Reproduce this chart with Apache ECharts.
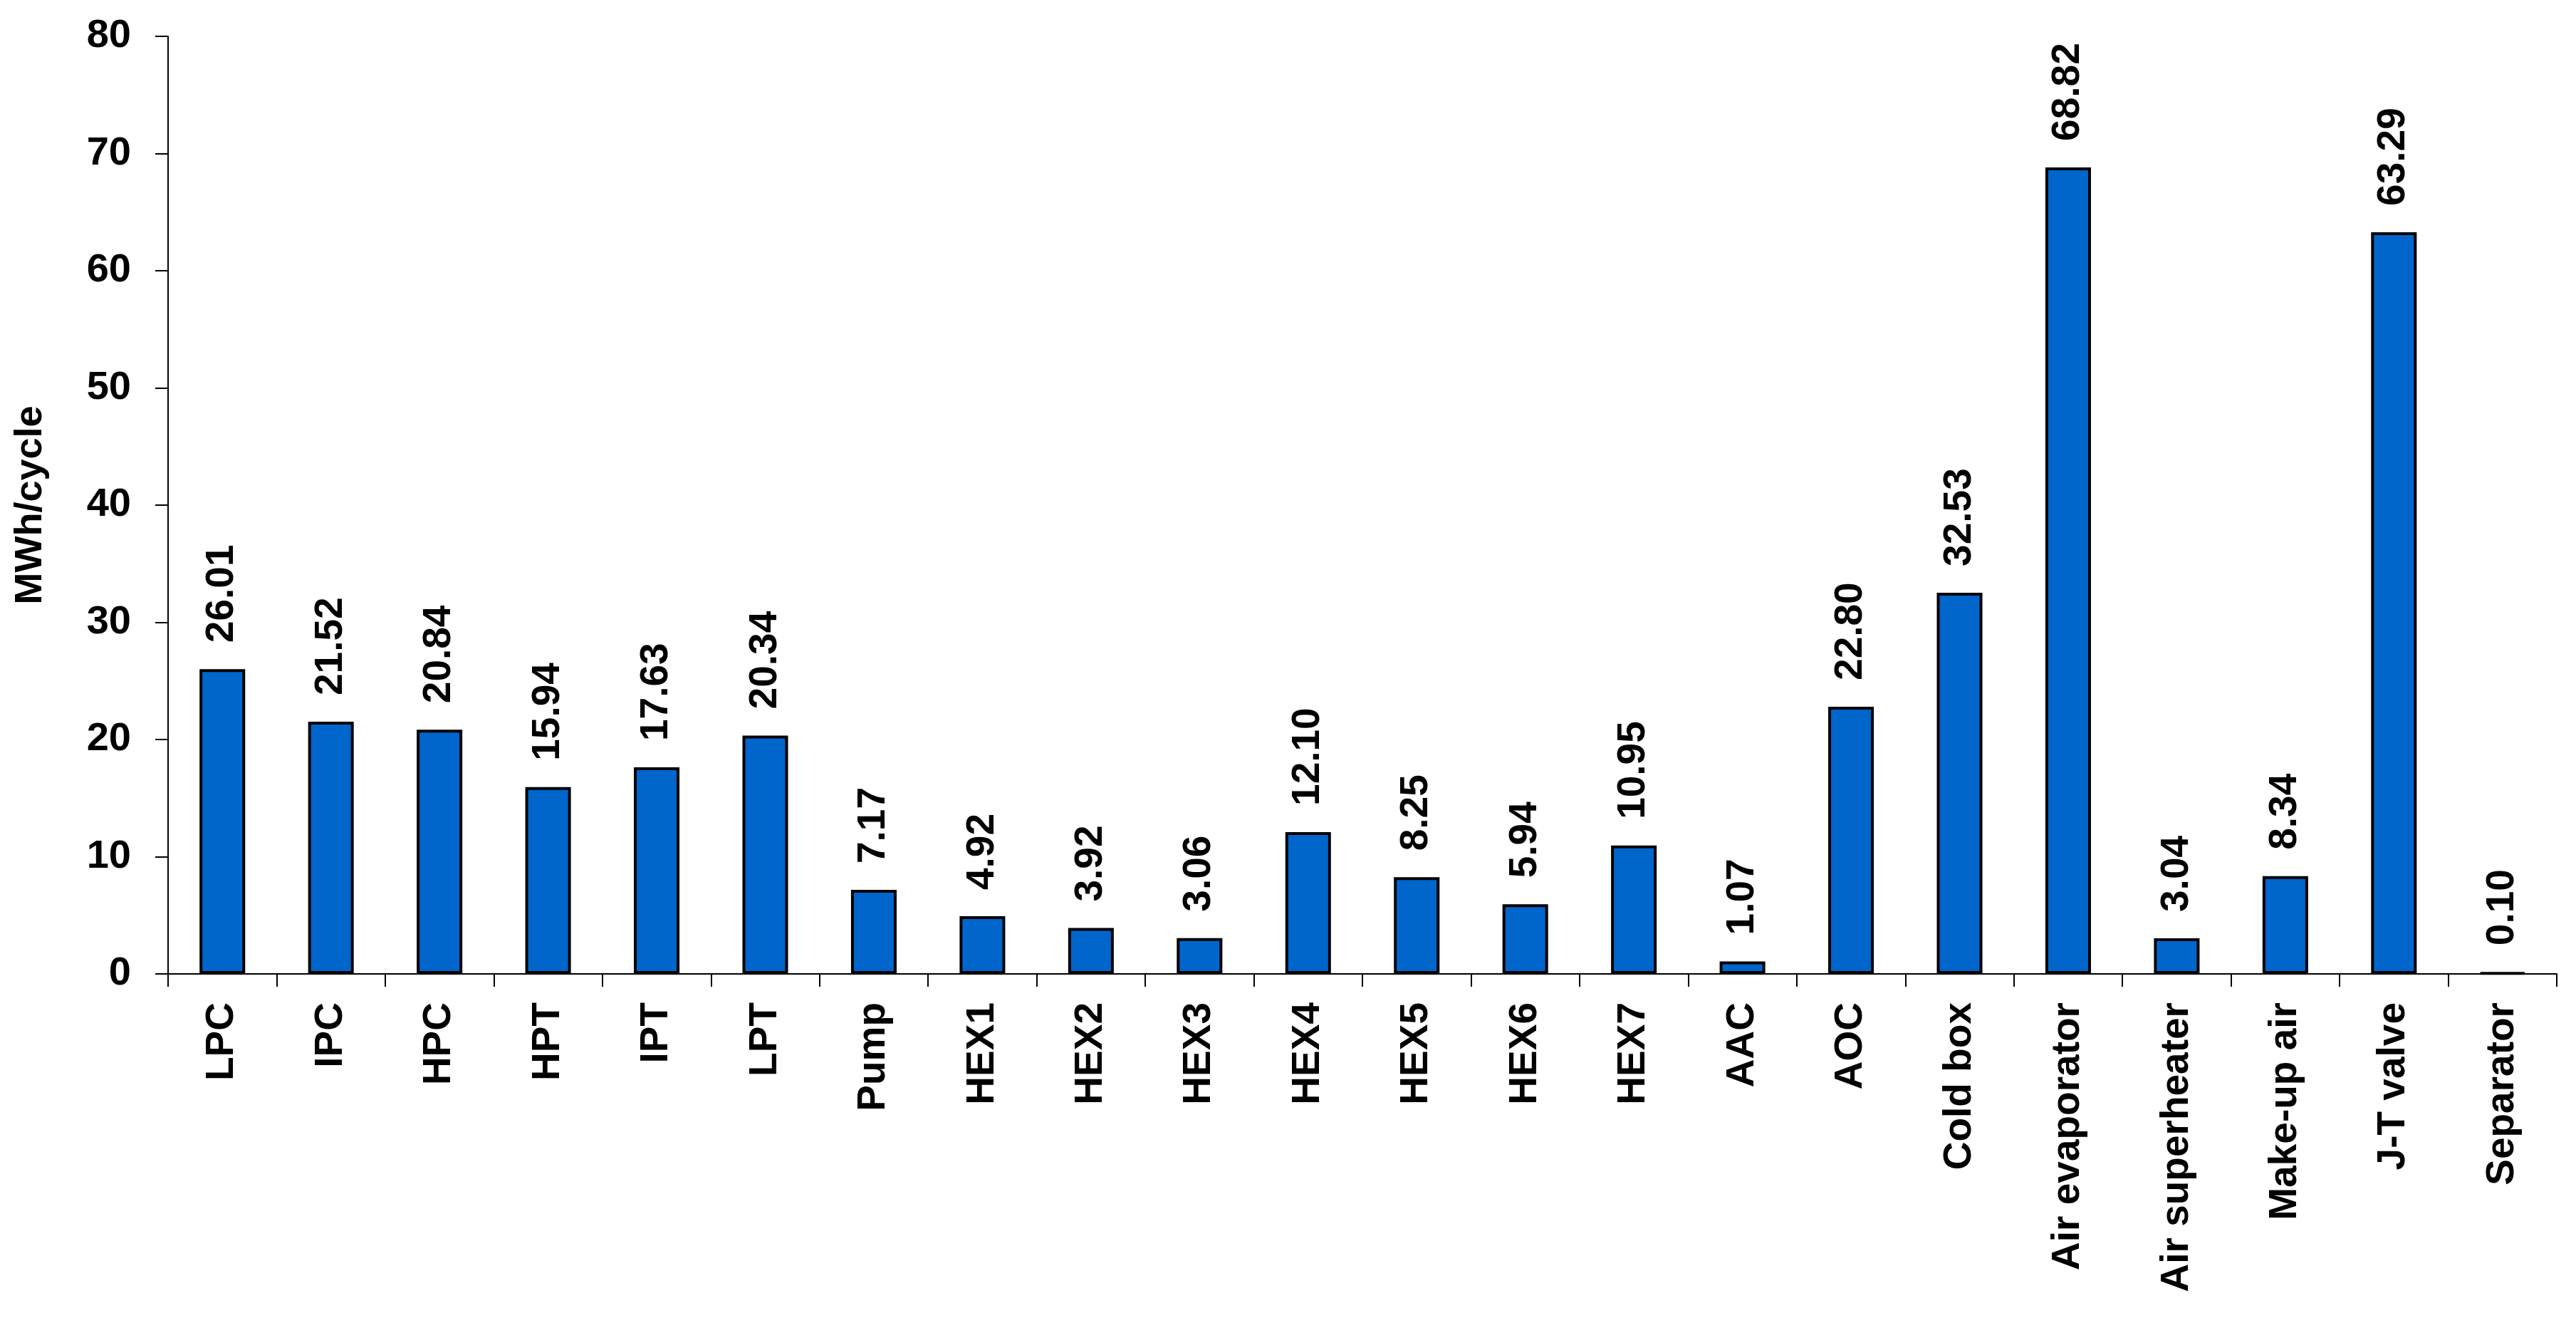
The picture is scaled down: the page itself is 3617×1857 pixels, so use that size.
<!DOCTYPE html>
<html>
<head>
<meta charset="utf-8">
<script src="https://cdn.jsdelivr.net/npm/echarts@6/dist/echarts.min.js"></script>
<style>
  html, body { margin: 0; padding: 0; background: #fff; }
  #chart { width: 3617px; height: 1857px; }
</style>
</head>
<body>
<div id="chart"></div>
<script>
const categories = ['LPC', 'IPC', 'HPC', 'HPT', 'IPT', 'LPT', 'Pump', 'HEX1', 'HEX2', 'HEX3', 'HEX4',
  'HEX5', 'HEX6', 'HEX7', 'AAC', 'AOC', 'Cold box', 'Air evaporator', 'Air superheater',
  'Make-up air', 'J-T valve', 'Separator'];
const values = [26.01, 21.52, 20.84, 15.94, 17.63, 20.34, 7.17, 4.92, 3.92, 3.06, 12.10,
  8.25, 5.94, 10.95, 1.07, 22.80, 32.53, 68.82, 3.04, 8.34, 63.29, 0.10];
const yTicks = { min: 0, max: 80, interval: 10 };

const font = '"Liberation Sans", Arial, sans-serif';

const chart = echarts.init(document.getElementById('chart'));
chart.setOption({
  animation: false,
  grid: { left: 236, right: 27, top: 51, bottom: 490, containLabel: false },
  xAxis: {
    type: 'category',
    data: categories,
    axisLine: { lineStyle: { color: '#000', width: 2 } },
    axisTick: { show: true, length: 18, lineStyle: { color: '#000', width: 2 } },
    axisLabel: {
      interval: 0, rotate: 90, margin: 40,
      color: '#000', fontSize: 55, fontWeight: 'bold', fontFamily: font
    },
    splitLine: { show: false }
  },
  yAxis: {
    type: 'value',
    min: yTicks.min, max: yTicks.max, interval: yTicks.interval,
    name: 'MWh/cycle',
    nameLocation: 'middle',
    nameGap: 166,
    nameTextStyle: { color: '#000', fontSize: 54, fontWeight: 'bold', fontFamily: font },
    axisLine: { show: true, lineStyle: { color: '#000', width: 2 } },
    axisTick: { show: true, length: 18, lineStyle: { color: '#000', width: 2 } },
    axisLabel: { margin: 52, color: '#000', fontSize: 56, fontWeight: 'bold', fontFamily: font },
    splitLine: { show: false }
  },
  series: [{
    type: 'bar',
    data: values,
    barWidth: '42%',
    itemStyle: { color: '#0066CC', borderColor: '#000', borderWidth: 4 },
    label: {
      show: true,
      position: 'top',
      rotate: 90,
      align: 'left',
      verticalAlign: 'middle',
      distance: 37,
      color: '#000', fontSize: 55, fontWeight: 'bold', fontFamily: font,
      formatter: p => p.value.toFixed(2)
    }
  }]
});
</script>
</body>
</html>
